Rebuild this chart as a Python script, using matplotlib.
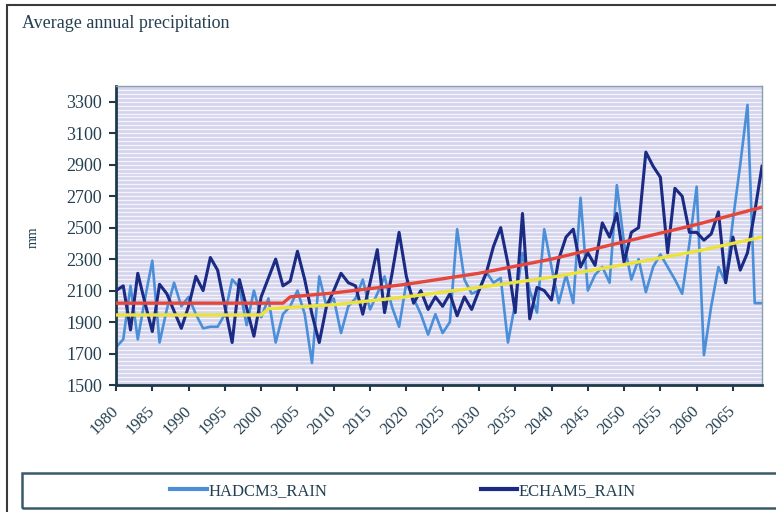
import numpy as np
import matplotlib
matplotlib.use("Agg")
import matplotlib.pyplot as plt
from matplotlib.patches import Rectangle

# --- data ---
years = list(range(1980, 2070))

hadcm3_rain = [
    1740, 1790, 2130, 1790, 2050, 2290, 1770, 1980, 2150, 2000,   # 1980-1989
    2060, 1950, 1860, 1870, 1870, 1950, 2170, 2120, 1880, 2100,   # 1990-1999
    1930, 2050, 1770, 1950, 2000, 2100, 1950, 1640, 2190, 2000,   # 2000-2009
    2050, 1830, 2000, 2050, 2170, 1980, 2080, 2190, 2000, 1870,   # 2010-2019
    2150, 2050, 1950, 1820, 1950, 1830, 1900, 2490, 2170, 2080,   # 2020-2029
    2100, 2220, 2150, 2180, 1770, 2020, 2340, 2100, 1960, 2490,   # 2030-2039
    2250, 2020, 2200, 2020, 2690, 2100, 2200, 2250, 2150, 2770,   # 2040-2049
    2400, 2170, 2300, 2090, 2250, 2330, 2250, 2170, 2080, 2400,   # 2050-2059
    2760, 1690, 2000, 2250, 2150, 2550, 2900, 3280, 2020, 2020,   # 2060-2069
]

echam5_rain = [
    2100, 2130, 1850, 2210, 2020, 1840, 2140, 2080, 1970, 1860,   # 1980-1989
    2000, 2190, 2100, 2310, 2230, 2000, 1770, 2170, 1990, 1810,   # 1990-1999
    2060, 2180, 2300, 2130, 2160, 2350, 2170, 1950, 1770, 2000,   # 2000-2009
    2100, 2210, 2150, 2130, 1950, 2150, 2360, 1960, 2200, 2470,   # 2010-2019
    2190, 2020, 2100, 1980, 2060, 2000, 2080, 1940, 2060, 1980,   # 2020-2029
    2100, 2210, 2380, 2500, 2270, 1960, 2590, 1920, 2120, 2100,   # 2030-2039
    2040, 2300, 2440, 2490, 2250, 2340, 2260, 2530, 2440, 2590,   # 2040-2049
    2280, 2470, 2500, 2980, 2890, 2820, 2340, 2750, 2700, 2470,   # 2050-2059
    2470, 2420, 2460, 2600, 2150, 2440, 2230, 2340, 2600, 2890,   # 2060-2069
]

# trend curves (read at a few years)
trend_years_red = [1980, 2003, 2004, 2010, 2020, 2030, 2040, 2050, 2060, 2069]
trend_red = [2020, 2020, 2060, 2085, 2140, 2210, 2300, 2410, 2520, 2630]
trend_years_yellow = [1980, 2000, 2001, 2010, 2020, 2030, 2040, 2050, 2060, 2069]
trend_yellow = [1945, 1945, 1985, 2010, 2060, 2120, 2185, 2265, 2350, 2440]

y_ticks = list(range(1500, 3301, 200))
x_ticks = list(range(1980, 2066, 5))

# --- styling ---
SERIF = "Liberation Serif"
TXT = "#243f50"
LIGHT = "#4a8fd8"
DARK = "#1b2a82"

fig = plt.figure(figsize=(7.76, 5.12), dpi=100)
fig.patch.set_facecolor("white")

ax = fig.add_axes([116 / 776, 127 / 512, 646 / 776, 299 / 512])
ax.set_facecolor("#d4d4ee")
ax.hlines(np.arange(1500, 3400, 25), 1980, 2069, colors="#f6f4fb", lw=0.9, zorder=0)

ax.plot(years, hadcm3_rain, color=LIGHT, lw=1.9, zorder=2, label="HADCM3_RAIN")
ax.plot(years, echam5_rain, color=DARK, lw=2.2, zorder=3, label="ECHAM5_RAIN")
ax.plot(trend_years_yellow, trend_yellow, color="#ece23c", lw=2.4, zorder=4)
ax.plot(trend_years_red, trend_red, color="#e5473c", lw=2.4, zorder=5)

ax.set_xlim(1980, 2069)
ax.set_ylim(1500, 3400)
ax.set_yticks(y_ticks)
ax.set_xticks(x_ticks)
ax.set_yticklabels([str(v) for v in y_ticks], family=SERIF, fontsize=13, color=TXT)
ax.set_xticklabels([str(v) for v in x_ticks], family=SERIF, fontsize=12, color=TXT,
                   rotation=45, ha="right", rotation_mode="anchor", va="center")
ax.tick_params(axis="y", direction="out", length=5, width=1.5, color="#1e3a4a", pad=5)
ax.tick_params(axis="x", direction="out", length=4, width=1.5, color="#1e3a4a", pad=13)

for side in ("left", "bottom"):
    ax.spines[side].set_color("#1e3a4a")
    ax.spines[side].set_linewidth(2)
for side in ("top", "right"):
    ax.spines[side].set_color("#8aa0b0")
    ax.spines[side].set_linewidth(1)

fig.text(22 / 776, 1 - 23 / 512, "Average annual precipitation", family=SERIF,
         fontsize=13, color=TXT, va="center", ha="left")
fig.text(33 / 776, 1 - 237 / 512, "mm", family=SERIF, fontsize=10, color=TXT,
         rotation=90, va="center", ha="center")

# outer chart border and legend box
fig.patches.append(Rectangle((7 / 776, -0.02), 1.0, 1 - 5 / 512 + 0.02,
                             transform=fig.transFigure, fill=False,
                             edgecolor="#3a3a3a", lw=1.5))
fig.patches.append(Rectangle((22 / 776, 1 - 508 / 512), 1.0, 35 / 512,
                             transform=fig.transFigure, fill=False,
                             edgecolor="#3a5a6a", lw=1.8))

handles, labels = ax.get_legend_handles_labels()
leg = fig.legend(handles, labels, ncol=2, loc="center",
                 bbox_to_anchor=(403 / 776, 1 - 491 / 512), frameon=False,
                 prop={"family": SERIF, "size": 12}, handlelength=2.2,
                 handletextpad=0.1, columnspacing=9.2)
for t in leg.get_texts():
    t.set_color(TXT)
for h in leg.legend_handles:
    h.set_linewidth(3)

fig.savefig("out.png", dpi=100)
